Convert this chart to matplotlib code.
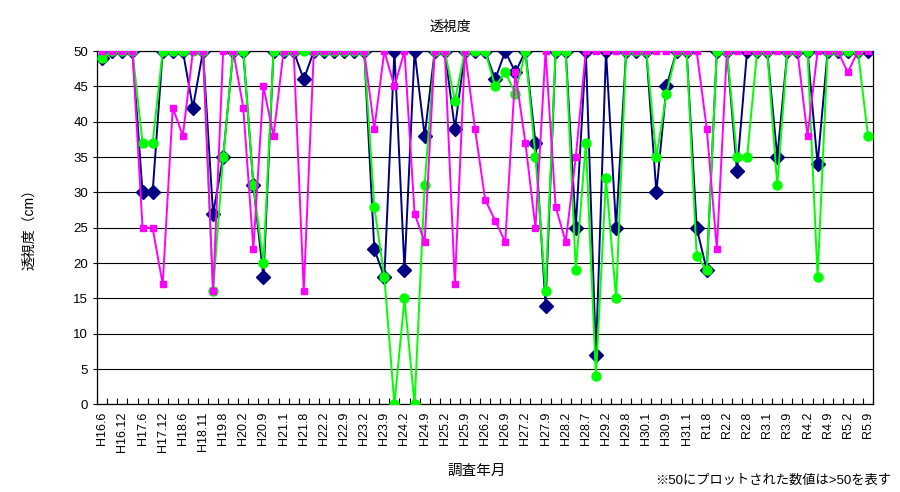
import matplotlib
matplotlib.use("Agg")
import matplotlib.pyplot as plt
import numpy as np

plt.rcParams['font.family'] = ['Liberation Sans', 'Noto Sans CJK JP', 'DejaVu Sans']

# tick labels (every second survey)
labels = ["H16.6", "H16.12", "H17.6", "H17.12", "H18.6", "H18.11", "H19.8", "H20.2",
          "H20.9", "H21.1", "H21.8", "H22.2", "H22.9", "H23.2", "H23.9", "H24.2",
          "H24.9", "H25.2", "H25.9", "H26.2", "H26.9", "H27.2", "H27.9", "H28.2",
          "H28.7", "H29.2", "H29.8", "H30.1", "H30.9", "H31.1", "R1.8", "R2.2",
          "R2.8", "R3.1", "R3.9", "R4.2", "R4.9", "R5.2", "R5.9"]

# navy diamonds
navy = [49, 50, 50, 50, 30, 30, 50, 50, 50, 42, 50, 27, 35, 50, 50, 31, 18, 50, 50, 50,
        46, 50, 50, 50, 50, 50, 50, 22, 18, 50, 19, 50, 38, 50, 50, 39, 50, 50, 50, 46,
        50, 47, 50, 37, 14, 50, 50, 25, 50, 7, 50, 25, 50, 50, 50, 30, 45, 50, 50, 25,
        19, 50, 50, 33, 50, 50, 50, 35, 50, 50, 50, 34, 50, 50, 50, 50, 50]

# green circles
green = [49, 50, 50, 50, 37, 37, 50, 50, 50, 50, 50, 16, 35, 50, 50, 31, 20, 50, 50, 50,
         50, 50, 50, 50, 50, 50, 50, 28, 18, 0, 15, 0, 31, 50, 50, 43, 50, 50, 50, 45,
         47, 44, 50, 35, 16, 50, 50, 19, 37, 4, 32, 15, 50, 50, 50, 35, 44, 50, 50, 21,
         19, 50, 50, 35, 35, 50, 50, 31, 50, 50, 50, 18, 50, 50, 50, 50, 38]

# magenta squares
magenta = [50, 50, 50, 50, 25, 25, 17, 42, 38, 50, 50, 16, 50, 50, 42, 22, 45, 38, 50, 50,
           16, 50, 50, 50, 50, 50, 50, 39, 50, 45, 50, 27, 23, 50, 50, 17, 50, 39, 29, 26,
           23, 47, 37, 25, 50, 28, 23, 35, 50, 50, 50, 50, 50, 50, 50, 50, 50, 50, 50, 50,
           39, 22, 50, 50, 50, 50, 50, 50, 50, 50, 38, 50, 50, 50, 47, 50, 50]

x = np.arange(len(navy))

fig = plt.figure(figsize=(9, 4.92), dpi=100)
ax = fig.add_axes([0.108, 0.178, 0.862, 0.718])

ax.plot(x, navy, color='#000080', lw=1.4, marker='D', ms=7, zorder=3)
ax.plot(x, green, color='#00FF00', lw=1.4, marker='o', ms=6.5, zorder=4)
ax.plot(x, magenta, color='#FF00FF', lw=1.4, marker='s', ms=4, zorder=5)

ax.set_xlim(-0.5, len(x) - 0.5)
ax.set_ylim(0, 50)
ax.set_yticks(np.arange(0, 51, 5))
ax.yaxis.grid(True, color='black', lw=0.8)
ax.set_axisbelow(True)

ax.set_xticks(np.arange(-0.5, len(x), 1), minor=True)
ax.set_xticks(x[::2])
ax.set_xticklabels(labels, rotation=90, fontsize=9)
ax.tick_params(axis='x', which='major', length=0, pad=5)
ax.tick_params(axis='x', which='minor', direction='in', length=4, width=0.8)
ax.tick_params(axis='y', labelsize=9.5, length=3)

for s in ax.spines.values():
    s.set_linewidth(0.9)

fig.text(0.5, 0.945, "透視度", ha='center', va='center', fontsize=10)
fig.text(0.032, 0.54, "透視度（cm）", rotation=90, ha='center', va='center', fontsize=10)
fig.text(0.53, 0.043, "調査年月", ha='center', va='center', fontsize=10.5)
fig.text(0.99, 0.022, "※50にプロットされた数値は>50を表す", ha='right', va='center', fontsize=9.5)

fig.savefig("out.png", dpi=100)
